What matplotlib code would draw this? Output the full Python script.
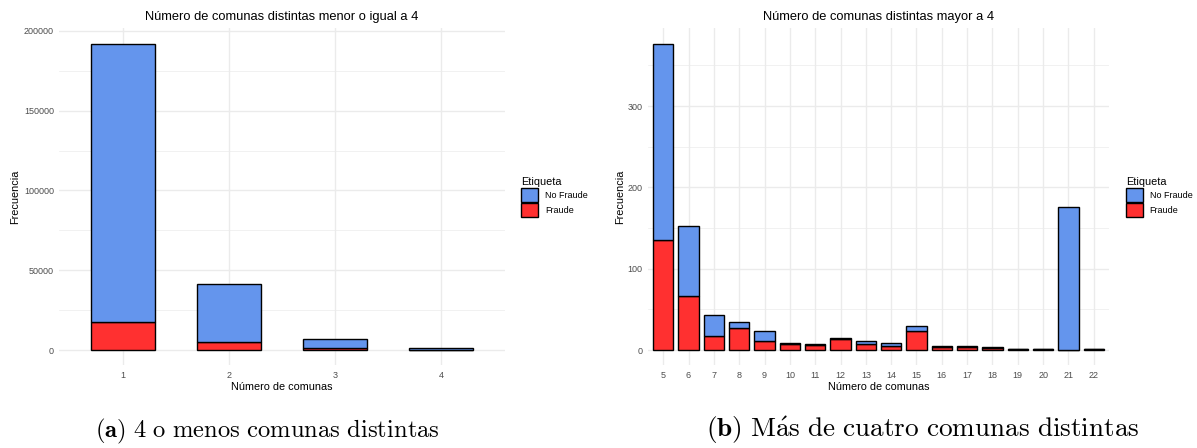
import matplotlib

matplotlib.use("Agg")
import matplotlib.pyplot as plt
from matplotlib.patches import Patch
import numpy as np

plt.rcParams["mathtext.fontset"] = "cm"
plt.rcParams["font.family"] = ["Liberation Sans", "DejaVu Sans"]

# panel (a): 4 or fewer distinct comunas
comunas_a = [1, 2, 3, 4]
fraude_a = [17700, 4800, 1100, 400]
no_fraude_a = [174300, 36400, 5800, 1100]

# panel (b): more than 4 distinct comunas
comunas_b = list(range(5, 23))
fraude_b = [136, 67, 18, 27, 11, 7, 6, 14, 7, 5, 24, 4, 4, 3, 1, 2, 0, 1]
no_fraude_b = [241, 86, 25, 7, 13, 2, 1, 1, 4, 4, 6, 1, 1, 1, 1, 0, 176, 0]

captions = [r"$\mathbf{(a)}\ \mathrm{4\ o\ menos\ comunas\ distintas}$",
            r"$\mathbf{(b)}\ \mathrm{M\acute{a}s\ de\ cuatro\ comunas\ distintas}$"]

BLUE = "#6495ED"
RED = "#FF3030"
GRID = "#EBEBEB"
TICK = "#4D4D4D"
W, H = 1197, 448

fig = plt.figure(figsize=(W / 100, H / 100), dpi=100, facecolor="white")
ax_a = fig.add_axes([59.2 / W, 0.1842, 445.3 / W, 0.7529])
ax_b = fig.add_axes([648 / W, 0.1842, 461 / W, 0.7529])


def panel(ax, x, fr, nf, width, major, minor, title, ylab_x, leg_x):
    pos = np.arange(len(x))
    ax.bar(pos, fr, width=width, color=RED, edgecolor="black", linewidth=1.0, zorder=3)
    ax.bar(pos, nf, bottom=fr, width=width, color=BLUE, edgecolor="black",
           linewidth=1.0, zorder=3)
    top = (np.array(fr) + np.array(nf)).max()
    ax.set_ylim(-0.05 * top, 1.05 * top)
    ax.set_xlim(-0.6, len(x) - 0.4)
    ax.set_xticks(pos, [str(v) for v in x])
    ax.set_yticks(major)
    ax.set_yticks(minor, minor=True)
    ax.grid(axis="y", which="major", color=GRID, linewidth=1.0, zorder=0)
    ax.grid(axis="y", which="minor", color=GRID, linewidth=0.5, zorder=0)
    ax.grid(axis="x", which="major", color=GRID, linewidth=1.0, zorder=0)
    ax.tick_params(which="both", length=0, labelsize=6.5, colors=TICK, pad=3.8)
    for spine in ax.spines.values():
        spine.set_visible(False)
    ax.set_title(title, fontsize=9.3, pad=6)
    ax.set_xlabel("Número de comunas", fontsize=7.8, labelpad=1.5)
    ax.set_ylabel("Frecuencia", fontsize=7.8)
    ax.yaxis.set_label_coords(ylab_x, 0.5)
    handles = [Patch(facecolor=BLUE, edgecolor="black", linewidth=1.0, label="No Fraude"),
               Patch(facecolor=RED, edgecolor="black", linewidth=1.0, label="Fraude")]
    ax.legend(handles=handles, title="Etiqueta", loc="center left",
              bbox_to_anchor=(leg_x, 0.5), frameon=False, fontsize=6.5,
              title_fontsize=7.8, alignment="left", handlelength=1.85,
              handleheight=1.95, handletextpad=0.75, labelspacing=0.15,
              borderaxespad=0.0, borderpad=0.0)


panel(ax_a, comunas_a, fraude_a, no_fraude_a, 0.6,
      [0, 50000, 100000, 150000, 200000], [25000, 75000, 125000, 175000],
      "Número de comunas distintas menor o igual a 4", -0.088, 1.038)
panel(ax_b, comunas_b, fraude_b, no_fraude_b, 0.8,
      [0, 100, 200, 300], [50, 150, 250, 350],
      "Número de comunas distintas mayor a 4", -0.050, 1.037)

# captions fitted to the width they take in the reference
renderer = fig.canvas.get_renderer()
for cap, (x0, x1) in zip(captions, [(95, 440), (706, 1140)]):
    t = fig.text(x0 / W, 1 - 437 / H, cap, ha="left", va="baseline", fontsize=18)
    w = t.get_window_extent(renderer).width
    t.set_fontsize(18 * (x1 - x0) / w)

fig.savefig("out.png", dpi=100, facecolor="white")
